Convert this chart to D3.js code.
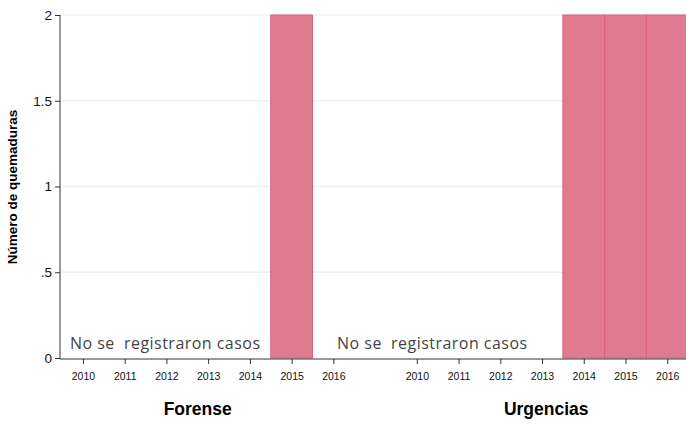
<!DOCTYPE html>
<html>
<head>
<meta charset="utf-8">
<script src="https://cdn.jsdelivr.net/npm/d3@7"></script>
<style>
  body { margin: 0; background: #fff; }
  svg { display: block; }
</style>
</head>
<body>
<div id="chart"></div>
<script>
var years = ["2010", "2011", "2012", "2013", "2014", "2015", "2016"];
var forense = [0, 0, 0, 0, 0, 2, 0];
var urgencias = [0, 0, 0, 0, 2, 2, 2];
var panels = ["Forense", "Urgencias"];
var yTicks = [0, 0.5, 1, 1.5, 2];
var yTickLabels = ["0", ".5", "1", "1.5", "2"];
var noCasesText = "No se  registraron casos";

var svgWidth = 686;
var svgHeight = 426;

var svg = d3.select("#chart")
  .append("svg")
  .attr("width", svgWidth)
  .attr("height", svgHeight);

// one continuous slot axis: Forense 0..6, gap at 7, Urgencias 8..14
var xScale = d3.scaleLinear()
  .domain([-0.55, 14.45])
  .range([60, 686]);

var yScale = d3.scaleLinear()
  .domain([0, 2])
  .range([358, 15]);

var rows = [];
years.forEach(function(y, i) {
  rows.push({ panel: 0, year: y, slot: i, value: forense[i] });
  rows.push({ panel: 1, year: y, slot: i + 8, value: urgencias[i] });
});

svg.append("defs").append("clipPath")
  .attr("id", "plotClip")
  .append("rect")
  .attr("x", 60).attr("y", 0)
  .attr("width", 626).attr("height", 360);

// gridlines
svg.append("g")
  .selectAll("line")
  .data(yTicks.filter(function(d) { return d > 0; }))
  .enter()
  .append("line")
  .attr("x1", 61)
  .attr("x2", 686)
  .attr("y1", function(d) { return yScale(d); })
  .attr("y2", function(d) { return yScale(d); })
  .attr("stroke", "#eaf0f4")
  .attr("stroke-width", 1.5);

// bars
svg.append("g")
  .attr("clip-path", "url(#plotClip)")
  .selectAll("rect")
  .data(rows.filter(function(d) { return d.value > 0; }))
  .enter()
  .append("rect")
  .attr("x", function(d) { return xScale(d.slot - 0.5); })
  .attr("width", function(d) { return xScale(d.slot + 0.5) - xScale(d.slot - 0.5); })
  .attr("y", function(d) { return yScale(d.value); })
  .attr("height", function(d) { return yScale(0) - yScale(d.value); })
  .attr("fill", "#e07a8f")
  .attr("stroke", "#d8627c")
  .attr("stroke-width", 1);

// "no cases" notes, placed in slot units
svg.append("g")
  .selectAll("text")
  .data([-0.31, 6.09])
  .enter()
  .append("text")
  .attr("x", function(d) { return xScale(d); })
  .attr("y", 349)
  .attr("font-family", "'Open Sans', sans-serif")
  .attr("font-size", 16)
  .attr("fill", "#444")
  .attr("textLength", 190)
  .attr("lengthAdjust", "spacing")
  .style("white-space", "pre")
  .text(noCasesText);

// y axis
var leftAxis = d3.axisLeft(yScale)
  .tickValues(yTicks)
  .tickFormat(function(d, i) { return yTickLabels[i]; })
  .tickSize(5)
  .tickPadding(3);

var yAxisG = svg.append("g")
  .attr("transform", "translate(60,0)")
  .call(leftAxis);
yAxisG.select(".domain").attr("stroke", "#333").attr("d", "M0,15V359");
yAxisG.selectAll(".tick line").attr("stroke", "#333");
yAxisG.selectAll(".tick text")
  .attr("font-family", "'Liberation Sans', Arial, sans-serif")
  .attr("font-size", 13.5)
  .attr("fill", "#111");

// x axis
var bottomAxis = d3.axisBottom(xScale)
  .tickValues(rows.map(function(d) { return d.slot; }))
  .tickFormat(function(d) { return years[d >= 8 ? d - 8 : d]; })
  .tickSize(5)
  .tickPadding(9);

var xAxisG = svg.append("g")
  .attr("transform", "translate(0,359)")
  .call(bottomAxis);
xAxisG.select(".domain").attr("stroke", "#333").attr("d", "M60,0H686");
xAxisG.selectAll(".tick line").attr("stroke", "#333");
xAxisG.selectAll(".tick text")
  .attr("font-family", "'Liberation Sans', Arial, sans-serif")
  .attr("font-size", 10.5)
  .attr("fill", "#111");

// panel titles
svg.append("g")
  .selectAll("text")
  .data(panels)
  .enter()
  .append("text")
  .attr("x", function(d, i) { return xScale([2.75, 11.1][i]); })
  .attr("y", 415)
  .attr("text-anchor", "middle")
  .attr("font-family", "'Liberation Sans', Arial, sans-serif")
  .attr("font-weight", "bold")
  .attr("font-size", 17.5)
  .attr("fill", "#000")
  .text(function(d) { return d; });

// y title
svg.append("text")
  .attr("transform", "translate(17,187) rotate(-90)")
  .attr("text-anchor", "middle")
  .attr("font-family", "'Liberation Sans', Arial, sans-serif")
  .attr("font-weight", "bold")
  .attr("font-size", 13.5)
  .attr("fill", "#000")
  .text("Número de quemaduras");
</script>
</body>
</html>
